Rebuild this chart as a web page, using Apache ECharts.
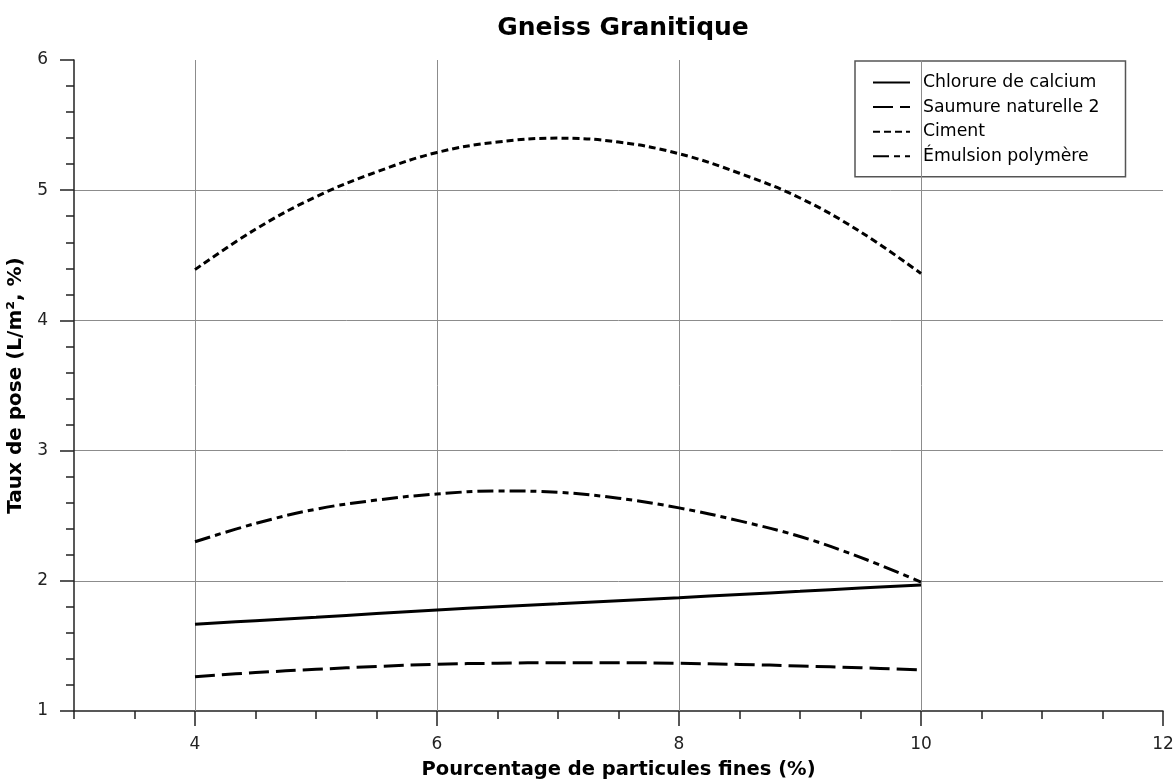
<!DOCTYPE html>
<html>
<head>
<meta charset="utf-8">
<script src="https://cdn.jsdelivr.net/npm/echarts@6/dist/echarts.min.js"></script>
<style>
html,body{margin:0;padding:0;background:#fff;}
#chart{width:1176px;height:780px;}
</style>
</head>
<body>
<div id="chart"></div>
<script>
// ---- data ----
const titleText = 'Gneiss Granitique';
const xName = 'Pourcentage de particules fines (%)';
const yName = 'Taux de pose (L/m², %)';
const seriesNames = ['Chlorure de calcium', 'Saumure naturelle 2', 'Ciment', 'Émulsion polymère'];
const xValues = [4, 4.5, 5, 5.5, 6, 6.5, 7, 7.5, 8, 8.5, 9, 9.5, 10];
const chlorure = [1.666, 1.694, 1.72, 1.748, 1.776, 1.80, 1.823, 1.847, 1.870, 1.895, 1.919, 1.944, 1.968];
const saumure = [1.263, 1.295, 1.32, 1.342, 1.359, 1.367, 1.371, 1.371, 1.366, 1.358, 1.346, 1.332, 1.315];
const ciment = [4.39, 4.70, 4.95, 5.14, 5.29, 5.37, 5.40, 5.37, 5.28, 5.13, 4.94, 4.68, 4.36];
const emulsion = [2.30, 2.44, 2.55, 2.62, 2.667, 2.69, 2.68, 2.634, 2.56, 2.46, 2.34, 2.18, 1.99];
const xMajorTicks = [4, 6, 8, 10, 12];
const xGridValues = [4, 6, 8, 10];

const FONT = 'DejaVu Sans';
const pairs = arr => xValues.map((x, i) => [x, arr[i]]);
const dashes = [[], [20, 7], [7, 4], [16, 5, 6, 5]];
const allData = [chlorure, saumure, ciment, emulsion];

const chart = echarts.init(document.getElementById('chart'), null, {renderer: 'canvas'});

const series = allData.map((d, i) => ({
  name: seriesNames[i],
  type: 'line',
  data: pairs(d),
  smooth: 0.4,
  symbol: 'none',
  showSymbol: false,
  z: 5,
  lineStyle: {color: '#000', width: 3, type: dashes[i].length ? dashes[i] : 'solid', cap: 'butt'},
  itemStyle: {color: '#000'}
}));
series.push({
  name: 'grid',
  type: 'line',
  data: [],
  z: 1,
  silent: true,
  markLine: {
    silent: true,
    symbol: 'none',
    label: {show: false},
    lineStyle: {color: '#8c8c8c', type: 'solid', width: 1},
    emphasis: {disabled: true},
    animation: false,
    data: xGridValues.map(v => ({xAxis: v}))
  }
});

const option = {
  animation: false,
  backgroundColor: '#fff',
  title: {
    text: titleText,
    left: 623,
    textAlign: 'center',
    top: 16,
    padding: 0,
    textStyle: {fontFamily: FONT, fontWeight: 'bold', fontSize: 25, color: '#000'}
  },
  grid: {left: 74, right: 13, top: 60, bottom: 69, containLabel: false, outerBoundsMode: 'none'},
  legend: {
    data: seriesNames,
    orient: 'vertical',
    left: 855,
    top: 61,
    padding: [13, 26, 12, 17],
    itemWidth: 37,
    itemHeight: 14,
    itemGap: 7.6,
    borderColor: '#555',
    borderWidth: 1.5,
    backgroundColor: 'transparent',
    itemStyle: {color: 'transparent', borderWidth: 0, opacity: 0},
    textStyle: {fontFamily: FONT, fontSize: 17.3, color: '#000', padding: [0, 0, 0, 8]}
  },
  xAxis: [{
    type: 'value',
    min: 3, max: 12, interval: 0.5,
    name: xName,
    nameLocation: 'middle',
    nameGap: 49,
    nameTextStyle: {fontFamily: FONT, fontWeight: 'bold', fontSize: 19.5, color: '#000'},
    axisLine: {show: true, lineStyle: {color: '#222', width: 1.5}},
    axisTick: {show: true, length: 8, lineStyle: {color: '#222', width: 1.5}},
    axisLabel: {
      fontFamily: FONT, fontSize: 17, color: '#222', margin: 25,
      formatter: v => (Math.abs(v - Math.round(v)) < 1e-6 && Math.round(v) % 2 === 0) ? String(Math.round(v)) : ''
    },
    splitLine: {show: false}
  }, {
    type: 'value',
    min: 3, max: 12,
    position: 'bottom',
    axisLine: {show: false},
    axisTick: {show: true, customValues: xMajorTicks, length: 15, lineStyle: {color: '#222', width: 1.5}},
    axisLabel: {show: false},
    splitLine: {show: false}
  }],
  yAxis: {
    type: 'value',
    min: 1, max: 6, interval: 1,
    name: yName,
    nameLocation: 'middle',
    nameGap: 41,
    nameTextStyle: {fontFamily: FONT, fontWeight: 'bold', fontSize: 20, color: '#000'},
    axisLine: {show: true, lineStyle: {color: '#222', width: 1.5}},
    axisTick: {show: true, length: 14, lineStyle: {color: '#222', width: 1.5}},
    minorTick: {show: true, splitNumber: 5, length: 8, lineStyle: {color: '#222', width: 1.5}},
    axisLabel: {fontFamily: FONT, fontSize: 17, color: '#222', margin: 26},
    splitLine: {show: true, showMinLine: false, showMaxLine: false, lineStyle: {color: '#8c8c8c', width: 1}}
  },
  series: series
};
chart.setOption(option);
</script>
</body>
</html>
